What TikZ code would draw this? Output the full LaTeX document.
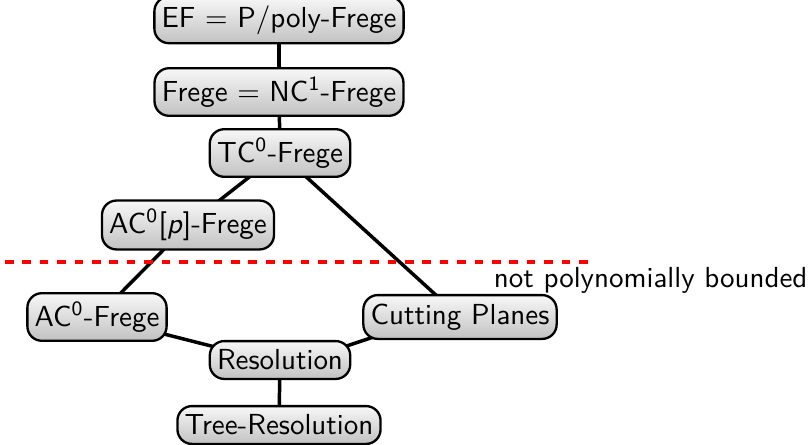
\documentclass[tikz,border=0pt]{standalone}
\usetikzlibrary{shadings,backgrounds}
\renewcommand{\familydefault}{\sfdefault}
\begin{document}
\begin{tikzpicture}[x=0.345pt,y=-0.345pt,
  sysbox/.style={draw=black, line width=0.8pt, rounded corners=5pt,
    top color=black!3, bottom color=black!24, inner xsep=2.5pt, inner ysep=3pt,
    font=\sffamily},
  link/.style={line width=1.2pt},
  cut/.style={draw=red, dashed, line width=1.1pt}]
\useasboundingbox (0,0) rectangle (810,444);
\node[sysbox] (ef) at (279,20) {EF $=$ P/poly-Frege};
\node[sysbox] (frege) at (279,92) {Frege $=$ NC\textsuperscript{1}-Frege};
\node[sysbox] (tc) at (280,153) {TC\textsuperscript{0}-Frege};
\node[sysbox] (acp) at (188,225) {AC\textsuperscript{0}[\textsl{p}]-Frege};
\node[sysbox] (ac) at (97,317) {AC\textsuperscript{0}-Frege};
\node[sysbox] (cp) at (460,317) {Cutting Planes};
\node[sysbox] (res) at (280,360) {Resolution};
\node[sysbox] (tree) at (279,425) {Tree-Resolution};
\begin{scope}[on background layer]
\draw[link] (ef.center) -- (frege.center);
\draw[link] (frege.center) -- (tc.center);
\draw[link] (tc.center) -- (acp.center);
\draw[link] (tc.center) -- (cp.center);
\draw[link] (acp.center) -- (ac.center);
\draw[link] (ac.center) -- ([yshift=-1.2pt]res.center);
\draw[link] ([yshift=-2.8pt]res.center) -- ([yshift=3pt]cp.center);
\draw[link] (res.center) -- (tree.center);
\end{scope}
\coordinate (cutL) at (5,262);
\coordinate (cutR) at (590,262);
\draw[cut] (cutL) -- (cutR);
\node[anchor=east, inner sep=0pt, font=\sffamily] (lbl) at (808,280) {not polynomially bounded};
\end{tikzpicture}
\end{document}
